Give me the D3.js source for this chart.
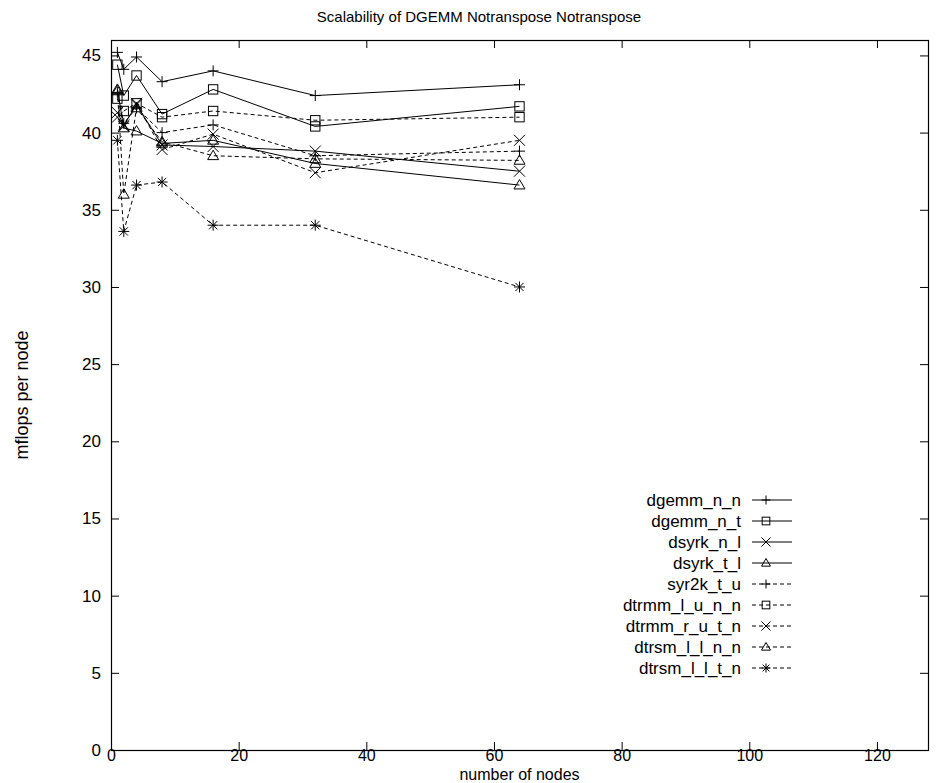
<!DOCTYPE html>
<html><head><meta charset="utf-8">
<script src="https://cdn.jsdelivr.net/npm/d3@7/dist/d3.min.js"></script>
<style>
body{margin:0;background:#fff}
text{font-family:"Liberation Sans",Arial,Helvetica,sans-serif;fill:#000}
</style>
</head><body>
<svg id="chart" width="936" height="783"></svg>
<script>
// ---- data ----
const nodes = [1, 2, 4, 8, 16, 32, 64];
const seriesNames = ["dgemm_n_n","dgemm_n_t","dsyrk_n_l","dsyrk_t_l","syr2k_t_u","dtrmm_l_u_n_n","dtrmm_r_u_t_n","dtrsm_l_l_n_n","dtrsm_l_l_t_n"];
const dgemm_n_n     = [45.2, 44.1, 44.9, 43.3, 44.0, 42.4, 43.1];
const dgemm_n_t     = [44.4, 42.4, 43.7, 41.2, 42.8, 40.4, 41.7];
const dsyrk_n_l     = [41.3, 40.5, 41.8, 39.2, 39.1, 38.8, 37.5];
const dsyrk_t_l     = [42.8, 40.3, 40.1, 39.3, 39.5, 38.0, 36.6];
const syr2k_t_u     = [42.6, 40.6, 41.6, 40.0, 40.5, 38.5, 38.8];
const dtrmm_l_u_n_n = [42.2, 41.4, 41.9, 41.0, 41.4, 40.8, 41.0];
const dtrmm_r_u_t_n = [41.0, 40.4, 41.9, 38.9, 39.9, 37.4, 39.5];
const dtrsm_l_l_n_n = [42.7, 36.0, 41.6, 39.4, 38.5, 38.3, 38.2];
const dtrsm_l_l_t_n = [39.5, 33.6, 36.6, 36.8, 34.0, 34.0, 30.0];
const xTicks = [0, 20, 40, 60, 80, 100, 120];
const yTicks = [0, 5, 10, 15, 20, 25, 30, 35, 40, 45];
const markerTypes = ["plus","box","cross","triangle","plus","box","cross","triangle","star"];
const dashedFlags = [false,false,false,false,true,true,true,true,true];
const titleText = "Scalability of DGEMM Notranspose Notranspose";
const xLabel = "number of nodes";
const yLabel = "mflops per node";

const seriesValues = [dgemm_n_n,dgemm_n_t,dsyrk_n_l,dsyrk_t_l,syr2k_t_u,dtrmm_l_u_n_n,dtrmm_r_u_t_n,dtrsm_l_l_n_n,dtrsm_l_l_t_n];
const series = seriesNames.map((n,i)=>({name:n, values:seriesValues[i], marker:markerTypes[i], dashed:dashedFlags[i]}));

// ---- layout ----
const svg = d3.select("#chart");
const L = 111, R = 928, T = 40, B = 750;
const x = d3.scaleLinear().domain([0,128]).range([L,R]);
const y = d3.scaleLinear().domain([0,46]).range([B,T]);
const FS = 17, FT = 15;
const DASH = "4,3";

// axes with inward ticks (mirrored)
const gx = svg.append("g").attr("transform",`translate(0,${B})`)
  .call(d3.axisBottom(x).tickValues(xTicks).tickSize(-8).tickPadding(0).tickFormat(d3.format("d")));
const gxTop = svg.append("g").attr("transform",`translate(0,${T})`)
  .call(d3.axisTop(x).tickValues(xTicks).tickSize(-8).tickFormat(""));
const gy = svg.append("g").attr("transform",`translate(${L},0)`)
  .call(d3.axisLeft(y).tickValues(yTicks).tickSize(-8).tickPadding(10).tickFormat(d3.format("d")));
const gyR = svg.append("g").attr("transform",`translate(${R},0)`)
  .call(d3.axisRight(y).tickValues(yTicks).tickSize(-8).tickFormat(""));
[gx,gxTop,gy,gyR].forEach(g=>{
  g.select(".domain").remove();
  g.selectAll("line").attr("stroke","#000").attr("stroke-width",1);
  g.selectAll("text").attr("font-size",FS).attr("font-family",null);
});
gx.selectAll("text").attr("font-size",16);
svg.append("rect").attr("x",L+0.5).attr("y",T+0.5).attr("width",R-L).attr("height",B-T)
  .attr("fill","none").attr("stroke","#000").attr("stroke-width",1.2);

// titles
svg.append("text").attr("x",479).attr("y",22).attr("text-anchor","middle").attr("font-size",FT).text(titleText);
svg.append("text").attr("x",(L+R)/2).attr("y",779.5).attr("text-anchor","middle").attr("font-size",16).text(xLabel);
svg.append("text").attr("transform",`translate(28,${(T+B)/2}) rotate(-90)`).attr("text-anchor","middle").attr("font-size",18).text(yLabel);

// markers
function marker(g, type, cx, cy, s){
  const h = s/2;
  const st = sel => sel.attr("stroke","#000").attr("stroke-width",1).attr("fill","none");
  if(type==="plus"||type==="star"){
    st(g.append("line").attr("x1",cx-h).attr("x2",cx+h).attr("y1",cy).attr("y2",cy));
    st(g.append("line").attr("x1",cx).attr("x2",cx).attr("y1",cy-h).attr("y2",cy+h));
  }
  if(type==="cross"||type==="star"){
    const d = type==="star"? h*0.75 : h;
    st(g.append("line").attr("x1",cx-d).attr("x2",cx+d).attr("y1",cy-d).attr("y2",cy+d));
    st(g.append("line").attr("x1",cx-d).attr("x2",cx+d).attr("y1",cy+d).attr("y2",cy-d));
  }
  if(type==="box"){
    st(g.append("rect").attr("x",cx-h*0.85).attr("y",cy-h*0.85).attr("width",s*0.85).attr("height",s*0.85));
  }
  if(type==="triangle"){
    st(g.append("path").attr("d",`M${cx},${cy-h}L${cx+h},${cy+h*0.7}L${cx-h},${cy+h*0.7}Z`));
  }
}

const line = d3.line().x((d,i)=>x(nodes[i])).y(d=>y(d));
const plot = svg.append("g");
series.forEach(s=>{
  plot.append("path").attr("d",line(s.values)).attr("fill","none").attr("stroke","#000")
    .attr("stroke-width",1).attr("stroke-dasharray",s.dashed?DASH:null);
});
series.forEach(s=>{
  const g = plot.append("g");
  s.values.forEach((v,i)=>marker(g, s.marker, x(nodes[i]), y(v), 11));
});

// legend
const leg = svg.append("g");
series.forEach((s,i)=>{
  const yy = 500 + i*21;
  leg.append("text").attr("x",741).attr("y",yy+6).attr("text-anchor","end").attr("font-size",FS).text(s.name);
  leg.append("line").attr("x1",752).attr("x2",792).attr("y1",yy).attr("y2",yy)
    .attr("stroke","#000").attr("stroke-width",1).attr("stroke-dasharray",s.dashed?DASH:null);
  marker(leg, s.marker, 766, yy, 9);
});
</script>
</body></html>
